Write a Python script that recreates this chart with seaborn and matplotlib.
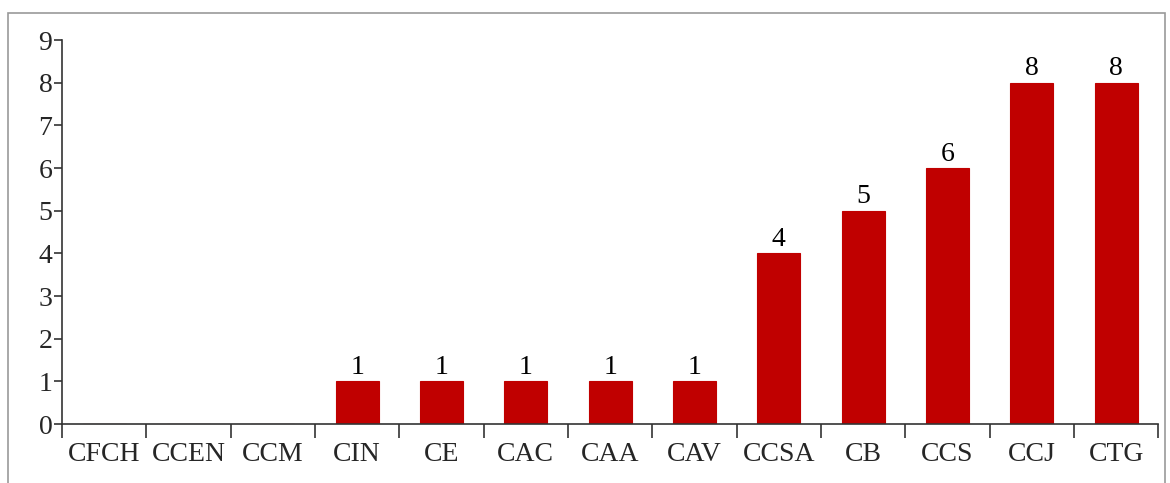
import numpy as np
import pandas as pd
import matplotlib.pyplot as plt
import seaborn as sns
from matplotlib.patches import Rectangle

categories = ['CFCH', 'CCEN', 'CCM', 'CIN', 'CE', 'CAC', 'CAA', 'CAV', 'CCSA', 'CB', 'CCS', 'CCJ', 'CTG']
counts = [0, 0, 0, 1, 1, 1, 1, 1, 4, 5, 6, 8, 8]

df = pd.DataFrame({'cat': categories, 'count': counts})

sns.set_style('white')
plt.rcParams['font.family'] = ['Liberation Serif', 'DejaVu Serif']

fig = plt.figure(figsize=(11.7, 4.83), dpi=100)
ax = fig.add_axes([0.053, 0.122, 0.937, 0.795])

sns.barplot(data=df, x='cat', y='count', color='#C00000', width=0.51,
            saturation=1, ax=ax, edgecolor='#C00000', linewidth=0.8)

for i, v in enumerate(counts):
    if v > 0:
        ax.text(i, v + 0.03, str(v), ha='center', va='bottom', fontsize=20, color='black')

ax.set_ylim(0, 9)
ax.set_xlim(-0.5, len(categories) - 0.5)
ax.set_yticks(range(10))
ax.set_xlabel('')
ax.set_ylabel('')

for s in ['top', 'right']:
    ax.spines[s].set_visible(False)
for s in ['left', 'bottom']:
    ax.spines[s].set_color('#333333')
    ax.spines[s].set_linewidth(1.2)

ax.tick_params(axis='y', which='major', length=6, width=1.2, color='#333333',
               labelsize=20, pad=1, direction='out', left=True)
ax.tick_params(axis='x', which='major', length=0, labelsize=20, pad=13)
ax.set_xticks(np.arange(-0.5, len(categories)), minor=True)
ax.tick_params(axis='x', which='minor', length=10, width=1.2, color='#333333',
               direction='out', bottom=True)

# outer frame around the chart
fig.patches.append(Rectangle((8 / 1170, -0.1), 1157 / 1170, 1.1 - 13 / 483,
                             transform=fig.transFigure, fill=False,
                             edgecolor='#999999', linewidth=1.2))

fig.savefig('out.png', dpi=100)
